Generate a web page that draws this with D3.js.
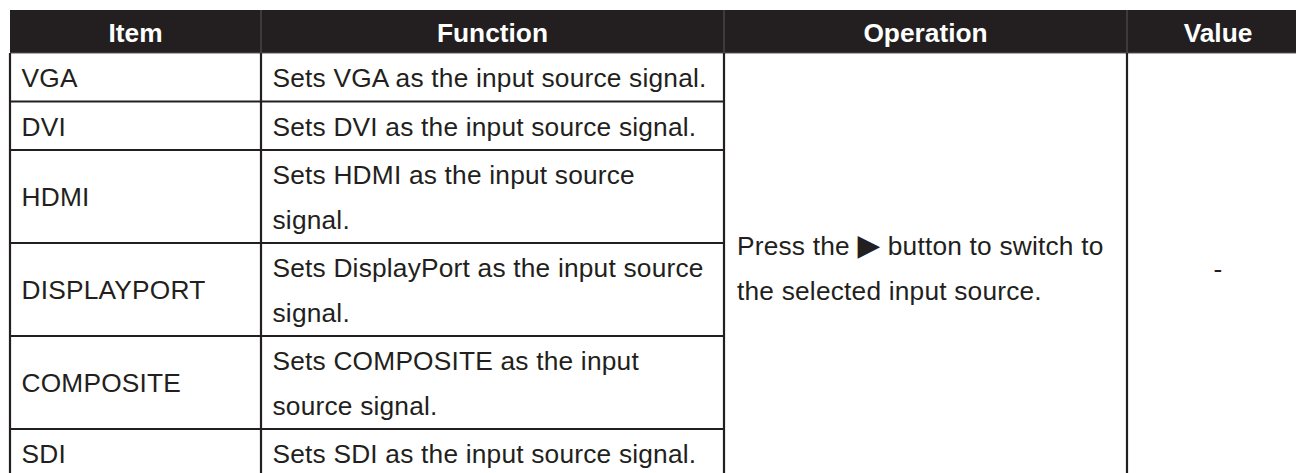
<!DOCTYPE html>
<html>
<head>
<meta charset="utf-8">
<script src="https://cdn.jsdelivr.net/npm/d3@7"></script>
<style>
  html, body { margin: 0; padding: 0; background: #ffffff; }
  svg { display: block; }
  text { font-family: "Liberation Sans", Arial, Helvetica, sans-serif; }
</style>
</head>
<body>
<svg id="chart" width="1296" height="473"></svg>
<script>
// ---- data ----
const headers = ["Item", "Function", "Operation", "Value"];
const items = ["VGA", "DVI", "HDMI", "DISPLAYPORT", "COMPOSITE", "SDI"];
const functions = [
  ["Sets VGA as the input source signal."],
  ["Sets DVI as the input source signal."],
  ["Sets HDMI as the input source", "signal."],
  ["Sets DisplayPort as the input source", "signal."],
  ["Sets COMPOSITE as the input", "source signal."],
  ["Sets SDI as the input source signal."]
];
const operation = ["Press the \u25B6 button to switch to", "the selected input source."];
const valueText = "-";

// ---- layout ----
const svg = d3.select("#chart");
const ink = "#231f20";
const fontSize = 26.3;
const spacing = 0.2;
const lineGap = 45;
const headerTop = 10, headerBottom = 53;
const colEdges = [10, 261, 724, 1127, 1309];
const x = d3.scaleOrdinal().domain(headers).range(colEdges.slice(0, 4));
const colW = h => colEdges[headers.indexOf(h) + 1] - x(h);

// row heights from the number of lines of each Function cell
const rowH = functions.map(f => f.length === 1 ? 48.5 : 93);
const rowTops = [headerBottom].concat(Array.from(d3.cumsum(rowH), v => headerBottom + v));
const y = d3.scaleOrdinal().domain(items).range(rowTops.slice(0, items.length));
const tableBottom = rowTops[rowTops.length - 1];

// header
svg.append("rect")
  .attr("x", colEdges[0]).attr("y", headerTop)
  .attr("width", colEdges[4] - colEdges[0]).attr("height", headerBottom - headerTop)
  .attr("fill", ink);

svg.selectAll("line.hsep").data(headers.slice(1)).join("line")
  .attr("class", "hsep")
  .attr("x1", d => x(d)).attr("x2", d => x(d))
  .attr("y1", headerTop).attr("y2", headerBottom)
  .attr("stroke", "#5a5758").attr("stroke-width", 1);

svg.append("line")
  .attr("x1", colEdges[0]).attr("x2", colEdges[4])
  .attr("y1", headerBottom).attr("y2", headerBottom)
  .attr("stroke", "#5a5758").attr("stroke-width", 1.2);

svg.selectAll("text.head").data(headers).join("text")
  .attr("class", "head")
  .attr("x", d => x(d) + colW(d) / 2)
  .attr("y", (headerTop + headerBottom) / 2 + 10)
  .attr("text-anchor", "middle")
  .attr("fill", "#ffffff")
  .attr("font-weight", "bold")
  .attr("font-size", fontSize)
  .text(d => d);

// grid lines
const g = svg.append("g").attr("stroke", ink).attr("stroke-width", 2.2);
g.selectAll("line.v").data(colEdges.slice(0, 4)).join("line")
  .attr("x1", d => d).attr("x2", d => d)
  .attr("y1", headerBottom).attr("y2", tableBottom);
g.selectAll("line.h").data(items.slice(1)).join("line")
  .attr("x1", colEdges[0]).attr("x2", colEdges[2])
  .attr("y1", d => y(d)).attr("y2", d => y(d));
g.append("line")
  .attr("x1", colEdges[0]).attr("x2", colEdges[4])
  .attr("y1", tableBottom).attr("y2", tableBottom);

// body text
const pad = 11.5;
const base = 9.8;
svg.selectAll("text.item").data(items).join("text")
  .attr("class", "item")
  .attr("x", x("Item") + pad)
  .attr("y", (d, i) => y(d) + rowH[i] / 2 + base)
  .attr("fill", ink).attr("font-size", fontSize)
  .attr("letter-spacing", spacing)
  .text(d => d);

const fcells = svg.selectAll("g.func").data(functions).join("g").attr("class", "func");
fcells.each(function(lines, i) {
  const cy = y(items[i]) + rowH[i] / 2;
  d3.select(this).selectAll("text").data(lines).join("text")
    .attr("x", x("Function") + pad)
    .attr("y", (d, j) => cy + (j - (lines.length - 1) / 2) * lineGap + base)
    .attr("fill", ink).attr("font-size", fontSize)
    .attr("letter-spacing", spacing)
    .text(d => d);
});

const opCy = (headerBottom + tableBottom) / 2 + 2.5;
svg.selectAll("text.op").data(operation).join("text")
  .attr("class", "op")
  .attr("x", x("Operation") + 13)
  .attr("y", (d, j) => opCy + (j - (operation.length - 1) / 2) * lineGap + base)
  .attr("fill", ink).attr("font-size", fontSize)
  .attr("letter-spacing", spacing)
  .each(function(d) {
    const t = d3.select(this);
    const parts = d.split("\u25B6");
    if (parts.length === 1) { t.text(d); return; }
    t.append("tspan").text(parts[0]);
    t.append("tspan").attr("font-family", "DejaVu Sans").attr("font-size", fontSize * 1.12).text("\u25B6");
    t.append("tspan").text(parts[1]);
  });

svg.append("text")
  .attr("x", x("Value") + colW("Value") / 2)
  .attr("y", opCy + base)
  .attr("text-anchor", "middle")
  .attr("fill", ink).attr("font-size", fontSize)
  .text(valueText);
</script>
</body>
</html>
